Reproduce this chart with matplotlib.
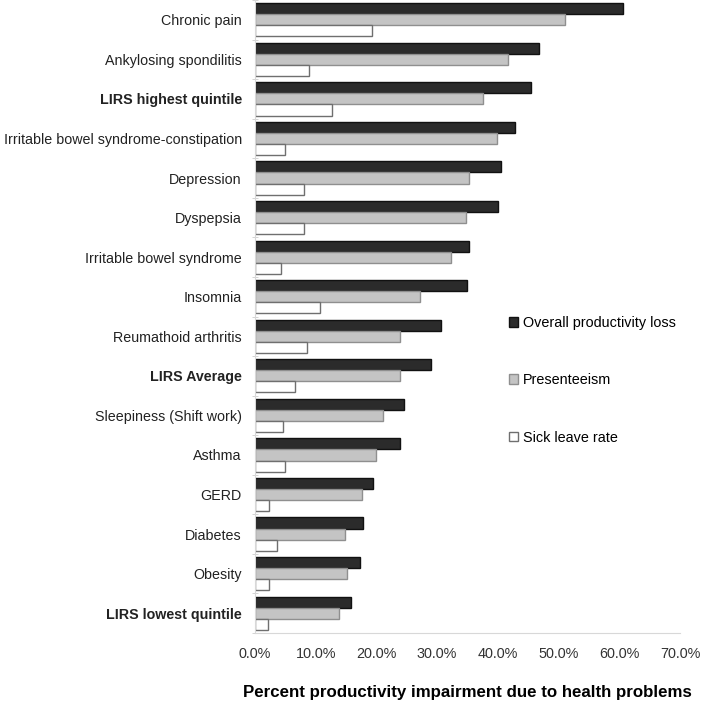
import matplotlib
matplotlib.use("Agg")
import matplotlib.pyplot as plt
import numpy as np
from matplotlib.ticker import FuncFormatter, FixedLocator

plt.rcParams['font.family'] = ['Liberation Sans', 'DejaVu Sans']

categories = ["Chronic pain", "Ankylosing spondilitis", "LIRS highest quintile",
              "Irritable bowel syndrome-constipation", "Depression", "Dyspepsia",
              "Irritable bowel syndrome", "Insomnia", "Reumathoid arthritis",
              "LIRS Average", "Sleepiness (Shift work)", "Asthma", "GERD",
              "Diabetes", "Obesity", "LIRS lowest quintile"]
bold_labels = {"LIRS highest quintile", "LIRS Average", "LIRS lowest quintile"}

overall = [60.6, 46.8, 45.5, 42.9, 40.5, 40.0, 35.3, 34.9, 30.6, 29.0, 24.6, 23.9, 19.5, 17.8, 17.3, 15.8]
presenteeism = [51.1, 41.7, 37.6, 39.9, 35.2, 34.7, 32.3, 27.2, 23.9, 23.9, 21.0, 19.9, 17.6, 14.8, 15.2, 13.9]
sick_leave = [19.3, 8.9, 12.7, 4.9, 8.1, 8.0, 4.2, 10.7, 8.6, 6.6, 4.6, 4.9, 2.3, 3.6, 2.3, 2.1]

series_names = ["Overall productivity loss", "Presenteeism", "Sick leave rate"]

fig = plt.figure(figsize=(7.04, 7.03), dpi=100)
ax = fig.add_axes([255/704, 1 - 633/703, 425/704, 633/703])

y = np.arange(len(categories))
h = 0.28
styles = [dict(color="#2b2b2b", edgecolor="#111111"),
          dict(color="#c4c4c4", edgecolor="#8f8f8f"),
          dict(color="#ffffff", edgecolor="#6f6f6f")]
for i, (vals, name, st) in enumerate(zip([overall, presenteeism, sick_leave], series_names, styles)):
    ax.barh(y + (i - 1) * h, vals, height=h, label=name, linewidth=1.0, **st)

ax.set_xlim(0, 70)
ax.set_ylim(len(categories) - 0.5, -0.5)
ax.set_xticks(np.arange(0, 71, 10))
ax.xaxis.set_major_formatter(FuncFormatter(lambda v, p: f"{v:.1f}%"))
ax.set_yticks(y)
ax.set_yticklabels(categories, fontsize=10.3, color="#222222")
for lab in ax.get_yticklabels():
    if lab.get_text() in bold_labels:
        lab.set_fontweight("bold")
ax.yaxis.set_minor_locator(FixedLocator(np.arange(-0.5, len(categories), 1)))
ax.tick_params(axis='y', which='major', length=0, pad=9.4)
ax.tick_params(axis='y', which='minor', length=4, color="#cccccc", direction='inout')
ax.tick_params(axis='x', length=0, labelsize=10.4, labelcolor="#333333", pad=10)

for s in ["top", "right"]:
    ax.spines[s].set_visible(False)
ax.spines["left"].set_color("#d8d8d8")
ax.spines["bottom"].set_color("#d8d8d8")

ax.set_xlabel("Percent productivity impairment due to health problems",
              fontsize=12.2, fontweight="bold", labelpad=17)

leg = ax.legend(loc="upper left", bbox_to_anchor=(496/425 - 255/425, 1 - 303/633),
                frameon=False, fontsize=10.4, handlelength=0.65, handleheight=0.65,
                handletextpad=0.3, labelspacing=3.0)

fig.savefig("out.png", dpi=100)
